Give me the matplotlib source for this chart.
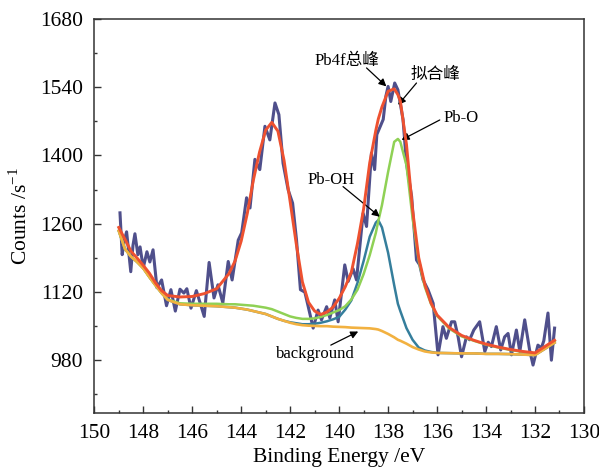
# Pb4f XPS spectrum with fitted peaks

import matplotlib
matplotlib.use("Agg")
import matplotlib.pyplot as plt
from matplotlib.ticker import MultipleLocator

plt.rcParams['font.family'] = ['Liberation Serif', 'Noto Sans CJK SC']
plt.rcParams['mathtext.fontset'] = 'stix'

# raw spectrum (binding energy, counts)
raw_ev = [148.95, 148.86, 148.77, 148.68, 148.60, 148.51, 148.42, 148.34, 148.22, 148.13,
          148.00, 147.85, 147.73, 147.60, 147.44, 147.25, 147.05, 146.87, 146.69, 146.50,
          146.34, 146.22, 146.05, 145.83, 145.51, 145.31, 145.11, 144.95, 144.75, 144.53,
          144.37, 144.12, 143.98, 143.78, 143.64, 143.44, 143.24, 143.03, 142.83, 142.62,
          142.46, 142.29, 142.08, 141.90, 141.74, 141.58, 141.40, 141.27, 141.06, 140.86,
          140.72, 140.51, 140.38, 140.18, 140.04, 139.77, 139.63, 139.43, 139.29, 139.02,
          138.88, 138.68, 138.55, 138.46, 138.20, 138.09, 138.00, 137.89, 137.73, 137.60,
          137.39, 137.25, 137.04, 136.84, 136.71, 136.57, 136.37, 136.16, 135.96, 135.76,
          135.62, 135.41, 135.28, 135.14, 135.00, 134.80, 134.67, 134.50, 134.26, 134.05,
          133.91, 133.78, 133.58, 133.40, 133.24, 133.10, 132.96, 132.76, 132.62, 132.42,
          132.22, 132.08, 131.88, 131.74, 131.64, 131.47, 131.33, 131.20]
raw_counts = [1282, 1196, 1226, 1243, 1205, 1161, 1215, 1239, 1196, 1212,
              1169, 1202, 1181, 1206, 1128, 1144, 1091, 1124, 1080, 1125,
              1117, 1126, 1086, 1122, 1069, 1180, 1107, 1134, 1097, 1182,
              1144, 1226, 1241, 1313, 1292, 1392, 1371, 1460, 1432, 1508,
              1484, 1384, 1329, 1302, 1226, 1124, 1119, 1091, 1045, 1082,
              1062, 1089, 1066, 1103, 1058, 1175, 1141, 1167, 1144, 1281,
              1254, 1405, 1371, 1443, 1474, 1522, 1542, 1511, 1549, 1535,
              1474, 1384, 1316, 1185, 1175, 1144, 1124, 1096, 990, 1048,
              1024, 1058, 1058, 1027, 986, 1027, 1021, 1041, 1058, 997,
              1016, 1007, 1048, 1000, 1027, 1034, 990, 1041, 997, 1062,
              1000, 969, 1010, 1004, 1019, 1076, 979, 1045]

# fitted curves on a common energy grid
fit_ev = [149.0, 148.75, 148.5, 148.25, 148.0, 147.75, 147.5, 147.25, 147.0, 146.5,
          146.0, 145.5, 145.0, 144.5, 144.25, 144.0, 143.75, 143.5, 143.25, 143.0,
          142.75, 142.5, 142.25, 142.0, 141.75, 141.5, 141.25, 141.0, 140.75, 140.5,
          140.25, 140.0, 139.75, 139.5, 139.25, 139.0, 138.75, 138.5, 138.4, 138.25,
          138.0, 137.75, 137.6, 137.5, 137.25, 137.0, 136.75, 136.5, 136.25, 136.0,
          135.5, 135.0, 134.5, 134.0, 133.5, 133.0, 132.5, 132.0, 131.2]
background = [1245, 1208, 1192, 1181, 1168, 1150, 1133, 1117, 1103, 1094,
              1092, 1091, 1090, 1088, 1087, 1085, 1083, 1080, 1077, 1074,
              1069, 1064, 1060, 1056, 1053, 1051, 1050, 1049.5, 1049, 1049,
              1048, 1047.5, 1047, 1046, 1045.5, 1045, 1044.5, 1043, 1042, 1039,
              1033, 1026, 1021, 1019, 1013, 1006, 1001, 997, 995, 994,
              993.5, 993, 993, 992, 992, 991.5, 990.5, 989.5, 1015]
pb_o = [1245, 1208, 1192, 1181, 1168, 1150, 1133, 1117, 1104, 1096,
        1095, 1095, 1095, 1094, 1094, 1093, 1092, 1091, 1089, 1087,
        1084, 1079, 1074, 1069, 1066, 1064, 1064, 1065, 1068, 1072,
        1077, 1082, 1090, 1104, 1124, 1156, 1195, 1241, 1265, 1298,
        1366, 1428, 1434, 1428, 1380, 1271, 1184, 1130, 1095, 1070,
        1044, 1028, 1019, 1011, 1005, 1000, 996, 993, 1018]
pb_oh = [1245, 1208, 1192, 1181, 1168, 1150, 1133, 1117, 1103, 1094,
         1092, 1091, 1090, 1088, 1087, 1085, 1083, 1080, 1077, 1074,
         1069, 1064, 1060, 1057, 1055, 1053, 1053, 1054, 1056, 1059,
         1063, 1068, 1083, 1102, 1138, 1183, 1233, 1262, 1267, 1252,
         1200, 1133, 1095, 1080, 1045, 1021, 1005, 999, 996, 994,
         993.5, 993, 993, 992, 992, 991.5, 990.5, 989.5, 1015]
fit_total = [1252, 1228, 1203, 1189, 1174, 1158, 1138, 1122, 1112, 1109,
             1110, 1116, 1126, 1157, 1183, 1224, 1281, 1350, 1407, 1452,
             1468, 1450, 1390, 1305, 1218, 1140, 1098, 1080, 1073, 1078,
             1088, 1106, 1130, 1160, 1219, 1290, 1385, 1452, 1475, 1500,
             1532, 1537, 1525, 1512, 1423, 1288, 1190, 1135, 1097, 1072,
             1046, 1030, 1020, 1012, 1006, 1001, 997, 994, 1020]

fig = plt.figure(figsize=(5.99, 4.72), dpi=100)
ax = fig.add_axes([0.1574, 0.1256, 0.8175, 0.8335])

ax.plot(raw_ev, raw_counts, color='#4F4F8B', lw=2.2, solid_joinstyle='round', zorder=1)
ax.plot(fit_ev, pb_oh, color='#357E9C', lw=1.8, zorder=2)
ax.plot(fit_ev, pb_o, color='#8FD155', lw=1.8, zorder=3)
ax.plot(fit_ev, background, color='#F2B140', lw=1.9, zorder=4)
ax.plot(fit_ev, fit_total, color='#EE5130', lw=2.1, zorder=5)

ax.set_xlim(150, 130)
ax.set_ylim(871, 1680)
ax.set_xticks(range(150, 129, -2))
ax.set_yticks([980, 1120, 1260, 1400, 1540, 1680])
ax.xaxis.set_minor_locator(MultipleLocator(1))
ax.yaxis.set_minor_locator(MultipleLocator(70))
ax.tick_params(which='both', direction='in', top=False, right=False, width=1, color='#333333')
ax.tick_params(which='major', length=5, labelsize=15.5, pad=8)
ax.tick_params(which='minor', length=2.5)
for s in ax.spines.values():
    s.set_color('#333333')
    s.set_linewidth(1.1)

ax.set_xlabel('Binding Energy /eV', fontsize=15.5)
ax.set_ylabel('Counts /s$^{\\mathregular{-1}}$', fontsize=15.5)
ax.xaxis.set_label_coords(0.5, -0.09)
ax.yaxis.set_label_coords(-0.127, 0.5)

# labels with arrows
arrow = dict(arrowstyle='-|>', color='black', lw=0.9, mutation_scale=11, shrinkA=0, shrinkB=0)
ax.annotate('', xy=(138.07, 1542), xytext=(138.88, 1580), arrowprops=arrow)
ax.annotate('', xy=(137.59, 1504), xytext=(136.84, 1549), arrowprops=arrow)
ax.annotate('', xy=(137.45, 1432), xytext=(135.89, 1473), arrowprops=arrow)
ax.annotate('', xy=(138.34, 1274), xytext=(139.84, 1336), arrowprops=arrow)
ax.annotate('', xy=(139.22, 1038), xytext=(140.34, 1010), arrowprops=arrow)

ax.text(139.67, 1595, 'Pb4f总峰', fontsize=12, ha='center', va='center')
ax.text(136.05, 1566, '拟合峰', fontsize=12, ha='center', va='center')
ax.text(135.01, 1477, 'Pb-O', fontsize=12, ha='center', va='center')
ax.text(140.32, 1350, 'Pb-OH', fontsize=12, ha='center', va='center')
ax.text(140.97, 992, 'background', fontsize=12, ha='center', va='center')

fig.savefig('out.png', dpi=100)
